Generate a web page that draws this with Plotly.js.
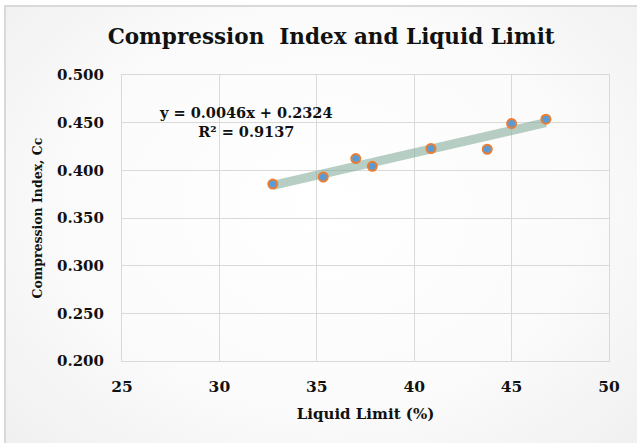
<!DOCTYPE html>
<html>
<head>
<meta charset="utf-8">
<script src="https://cdn.plot.ly/plotly-3.0.1.min.js"></script>
<style>
  html, body { margin: 0; padding: 0; background: #ffffff; }
  #wrap { position: relative; width: 637px; height: 443px; overflow: hidden; }
  #bg { position: absolute; left: 4px; top: 5px; width: 640px; height: 450px;
        border-left: 2px solid #d9d9d9; border-top: 2px solid #d9d9d9;
        background: radial-gradient(ellipse at 50% 45%, #ffffff 0%, #fbfbfb 55%, #efefef 100%); }
  #chart { position: absolute; left: 0; top: 0; width: 637px; height: 443px; }
</style>
</head>
<body>
<div id="wrap">
  <div id="bg"></div>
  <div id="chart"></div>
</div>
<script>
// Data
const liquidLimit = [32.74, 35.33, 37.0, 37.85, 40.86, 43.75, 45.0, 46.76];
const compressionIndex = [0.3856, 0.3930, 0.4123, 0.4042, 0.4229, 0.4221, 0.4490, 0.4536];
// Trendline label as printed on the chart
const labelSlope = 0.0046;
const labelIntercept = 0.2324;
const rSquared = 0.9137;
const xTicks = [25, 30, 35, 40, 45, 50];
const yTicks = [0.200, 0.250, 0.300, 0.350, 0.400, 0.450, 0.500];

// Least-squares trendline through the data (as the spreadsheet draws it)
const n = liquidLimit.length;
const mx = liquidLimit.reduce((a, b) => a + b, 0) / n;
const my = compressionIndex.reduce((a, b) => a + b, 0) / n;
let sxy = 0, sxx = 0;
for (let i = 0; i < n; i++) {
  sxy += (liquidLimit[i] - mx) * (compressionIndex[i] - my);
  sxx += (liquidLimit[i] - mx) ** 2;
}
const fitSlope = sxy / sxx;
const fitIntercept = my - fitSlope * mx;
const trendX = [Math.min(...liquidLimit), Math.max(...liquidLimit)];
const trendY = trendX.map(x => fitSlope * x + fitIntercept);

const font = "'DejaVu Serif', 'Liberation Serif', serif";

const traces = [
  {
    x: trendX, y: trendY, type: 'scatter', mode: 'lines',
    line: { color: 'rgba(122,166,146,0.55)', width: 9 },
    hoverinfo: 'skip', showlegend: false
  },
  {
    x: liquidLimit, y: compressionIndex, type: 'scatter', mode: 'markers',
    marker: { size: 9, color: '#5b9bd5', line: { color: '#ed7d31', width: 2 } },
    showlegend: false
  }
];

const layout = {
  width: 637, height: 443,
  paper_bgcolor: 'rgba(0,0,0,0)', plot_bgcolor: 'rgba(0,0,0,0)',
  margin: { l: 122, r: 28, t: 75, b: 82 },
  title: {
    text: 'Compression  Index and Liquid Limit',
    font: { family: font, size: 21.5, color: '#111111', weight: 'bold' },
    x: 0.52, xref: 'container', xanchor: 'center',
    y: 1 - 36 / 443, yref: 'container', yanchor: 'middle'
  },
  xaxis: {
    range: [25, 50], tickvals: xTicks, ticktext: xTicks.map(String),
    showgrid: true, gridcolor: '#d9d9d9', gridwidth: 1,
    zeroline: false, showline: true, linecolor: '#d9d9d9', linewidth: 1, mirror: true,
    ticks: '', ticklabelstandoff: 11,
    tickfont: { family: font, size: 15.5, color: '#111111', weight: 'bold' },
    title: { text: 'Liquid Limit (%)', standoff: 13,
             font: { family: font, size: 15, color: '#111111', weight: 'bold' } }
  },
  yaxis: {
    range: [0.2, 0.5], tickvals: yTicks, ticktext: yTicks.map(v => v.toFixed(3)),
    showgrid: true, gridcolor: '#d9d9d9', gridwidth: 1,
    zeroline: false, showline: true, linecolor: '#d9d9d9', linewidth: 1, mirror: true,
    ticks: '', ticklabelstandoff: 14,
    tickfont: { family: font, size: 15, color: '#111111', weight: 'bold' },
    title: { text: 'Compression Index, Cc', standoff: 11,
             font: { family: font, size: 12.5, color: '#111111', weight: 'bold' } }
  },
  annotations: [
    {
      text: 'y = ' + labelSlope.toFixed(4) + 'x + ' + labelIntercept.toFixed(4) + '<br>R² = ' + rSquared.toFixed(4),
      xref: 'x', yref: 'y', x: 31.37, y: 0.4505, showarrow: false,
      align: 'center', xanchor: 'center', yanchor: 'middle',
      font: { family: font, size: 14.5, color: '#111111', weight: 'bold' }
    }
  ]
};

Plotly.newPlot('chart', traces, layout, { displayModeBar: false, staticPlot: true });
</script>
</body>
</html>
